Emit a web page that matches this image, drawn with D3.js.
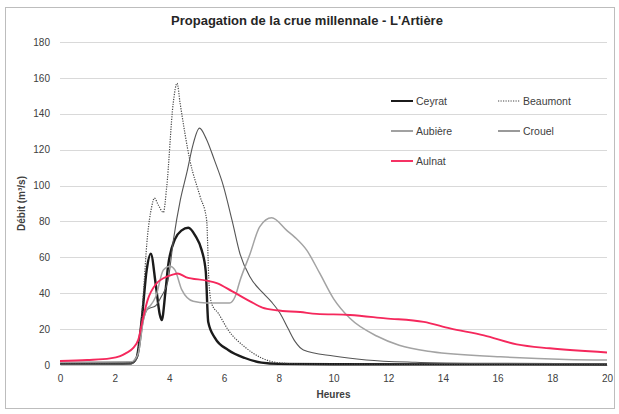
<!DOCTYPE html>
<html>
<head>
<meta charset="utf-8">
<script src="https://cdn.jsdelivr.net/npm/d3@7"></script>
<style>
  body { margin: 0; background: #fff; }
  svg { display: block; font-family: "Liberation Sans", Arial, sans-serif; }
</style>
</head>
<body>
<svg id="chart" width="619" height="414"></svg>
<script>
// ---------------------------------------------------------
// Propagation de la crue millennale - L'Artière
// each series: [heure, débit m3/s]
// ---------------------------------------------------------

const ceyrat = [
  [0, 0.8], [2, 0.8], [2.6, 1], [2.8, 4], [3.0, 27], [3.17, 53], [3.32, 62],
  [3.5, 45], [3.65, 28], [3.72, 25], [3.85, 40], [3.95, 55], [4.2, 70],
  [4.45, 75], [4.69, 76.5], [4.95, 72], [5.18, 64], [5.33, 52], [5.42, 24],
  [5.67, 15], [6.15, 8.4], [6.76, 3.9], [7.37, 1.3], [8, 0.6], [10, 0.4], [20, 0.3]
];

const beaumont = [
  [0, 1], [2.6, 1.2], [2.8, 4], [3.0, 30], [3.2, 72], [3.35, 88], [3.45, 93],
  [3.6, 89], [3.78, 85], [3.9, 99], [4.14, 146], [4.28, 157], [4.39, 146],
  [4.75, 114], [5.12, 94], [5.36, 81], [5.45, 45], [5.55, 34], [5.78, 29],
  [6.15, 19.5], [6.76, 10], [7.37, 3.9], [7.97, 1.3], [9, 0.5], [20, 0.3]
];

const aubiere = [
  [0, 0.5], [2.6, 0.6], [2.85, 5], [3.05, 25], [3.2, 31], [3.5, 33], [3.7, 38],
  [3.95, 47], [4.15, 70], [4.4, 92], [4.65, 108], [4.85, 122], [5.1, 132],
  [5.35, 126], [5.65, 114], [5.97, 100], [6.3, 80], [6.58, 62], [6.95, 49],
  [7.43, 40], [7.74, 35], [8.04, 29], [8.35, 20], [8.6, 13], [8.9, 8.4],
  [10, 5], [11.2, 2.8], [13, 1.5], [15, 1], [20, 0.7]
];

const crouel = [
  [0, 1.5], [2.6, 1.8], [2.85, 6], [3.05, 25], [3.17, 31], [3.3, 33], [3.5, 38],
  [3.78, 53], [4.02, 55], [4.2, 53], [4.45, 42], [4.87, 35.5], [5.36, 34.5],
  [6.2, 34.5], [6.4, 38], [6.58, 47], [6.95, 62], [7.3, 77], [7.74, 82],
  [8.29, 75], [8.6, 71], [9.02, 64], [9.5, 51], [10, 37], [10.6, 26],
  [11.6, 16], [12.4, 11], [13.6, 7.4], [16.1, 4.6], [18.5, 3.1], [20, 2.8]
];

const aulnat = [
  [0, 2.2], [1, 2.8], [1.83, 3.7], [2.2, 5], [2.4, 6.5], [2.68, 9.5], [2.86, 14],
  [3.05, 27], [3.2, 36], [3.53, 45.5], [3.8, 48.5], [4.15, 50.5], [4.3, 51],
  [4.6, 49], [5.36, 47], [5.73, 45.6], [6.3, 41], [6.95, 35.5], [7.4, 32],
  [7.92, 30.5], [8.78, 29.5], [9.38, 28.5], [10.6, 27.9], [11.9, 26],
  [13.3, 24], [14.26, 20.4], [15.5, 16.5], [16.7, 11.5], [17.9, 9.3], [20, 7]
];

const seriesNames = ["Ceyrat", "Beaumont", "Aubière", "Crouel", "Aulnat"];
const seriesData  = [ceyrat, beaumont, aubiere, crouel, aulnat];

const xTicks = [0, 2, 4, 6, 8, 10, 12, 14, 16, 18, 20];
const yTicks = [0, 20, 40, 60, 80, 100, 120, 140, 160, 180];

// styles per series
const STYLE = {
  "Ceyrat":   { color: "#1b1b1b", width: 2.4, dash: null },
  "Beaumont": { color: "#444444", width: 1.2, dash: "1.2,1.3" },
  "Aubière":  { color: "#555555", width: 1.1, dash: null },
  "Crouel":   { color: "#a3a3a3", width: 1.5, dash: null },
  "Aulnat":   { color: "#f5285c", width: 1.9, dash: null }
};

const svg = d3.select("#chart");

// outer frame
svg.append("rect")
  .attr("x", 5.5).attr("y", 7.5)
  .attr("width", 609).attr("height", 401)
  .attr("fill", "#fff")
  .attr("stroke", "#bdbdbd");

const plot = { left: 60, right: 607, top: 42, bottom: 365 };

const x = d3.scaleLinear().domain([0, 20]).range([plot.left, plot.right]);
const y = d3.scaleLinear().domain([0, 180]).range([plot.bottom, plot.top]);

// -------------------------------------------------------
// GRID + AXES
// -------------------------------------------------------
svg.append("g")
  .selectAll("line")
  .data(yTicks.filter(d => d > 0))
  .enter().append("line")
  .attr("x1", plot.left).attr("x2", plot.right)
  .attr("y1", d => Math.round(y(d)) + 0.5)
  .attr("y2", d => Math.round(y(d)) + 0.5)
  .attr("stroke", "#d9d9d9")
  .attr("stroke-width", 1);

const yAxis = svg.append("g")
  .attr("transform", `translate(${plot.left},0)`)
  .call(d3.axisLeft(y).tickValues(yTicks).tickSize(0).tickPadding(10));
yAxis.select(".domain").remove();
yAxis.selectAll("text")
  .attr("font-size", 10)
  .attr("font-family", "Liberation Sans, Arial, sans-serif")
  .attr("fill", "#404040");

const xAxis = svg.append("g")
  .attr("transform", `translate(0,${plot.bottom})`)
  .call(d3.axisBottom(x).tickValues(xTicks).tickSize(0).tickPadding(10));
xAxis.select(".domain").attr("stroke", "#bfbfbf");
xAxis.selectAll("text")
  .attr("font-size", 10)
  .attr("font-family", "Liberation Sans, Arial, sans-serif")
  .attr("fill", "#404040");

// -------------------------------------------------------
// LINES
// -------------------------------------------------------
const line = d3.line()
  .x(d => x(d[0]))
  .y(d => y(d[1]))
  .curve(d3.curveMonotoneX);

svg.append("g")
  .selectAll("path")
  .data(seriesNames.map((name, i) => ({ name, values: seriesData[i] })))
  .enter().append("path")
  .attr("d", d => line(d.values))
  .attr("fill", "none")
  .attr("stroke", d => STYLE[d.name].color)
  .attr("stroke-width", d => STYLE[d.name].width)
  .attr("stroke-dasharray", d => STYLE[d.name].dash)
  .attr("stroke-linejoin", "round");

// -------------------------------------------------------
// TITLES
// -------------------------------------------------------
svg.append("text")
  .attr("x", 307).attr("y", 25)
  .attr("text-anchor", "middle")
  .attr("font-size", 13)
  .attr("font-weight", "bold")
  .attr("fill", "#262626")
  .text("Propagation de la crue millennale - L'Artière");

svg.append("text")
  .attr("x", (plot.left + plot.right) / 2).attr("y", 398)
  .attr("text-anchor", "middle")
  .attr("font-size", 10)
  .attr("font-weight", "bold")
  .attr("fill", "#404040")
  .text("Heures");

svg.append("text")
  .attr("transform", `translate(25,${(plot.top + plot.bottom) / 2}) rotate(-90)`)
  .attr("text-anchor", "middle")
  .attr("font-size", 10)
  .attr("font-weight", "bold")
  .attr("fill", "#404040")
  .text("Débit (m³/s)");

// -------------------------------------------------------
// LEGEND (2 columns)
// -------------------------------------------------------
const legendPos = [
  [391, 101], [498, 101],
  [391, 131], [498, 131],
  [391, 161]
];

const legend = svg.append("g")
  .selectAll("g")
  .data(seriesNames)
  .enter().append("g")
  .attr("transform", (d, i) => `translate(${legendPos[i][0]},${legendPos[i][1]})`);

legend.append("line")
  .attr("x1", 0).attr("x2", 22)
  .attr("stroke", d => STYLE[d].color === "#a3a3a3" ? "#777" : STYLE[d].color)
  .attr("stroke-width", d => Math.min(STYLE[d].width, 2))
  .attr("stroke-dasharray", d => STYLE[d].dash);

legend.append("text")
  .attr("x", 25).attr("dy", "0.35em")
  .attr("font-size", 10.5)
  .attr("fill", "#404040")
  .text(d => d);
</script>
</body>
</html>
